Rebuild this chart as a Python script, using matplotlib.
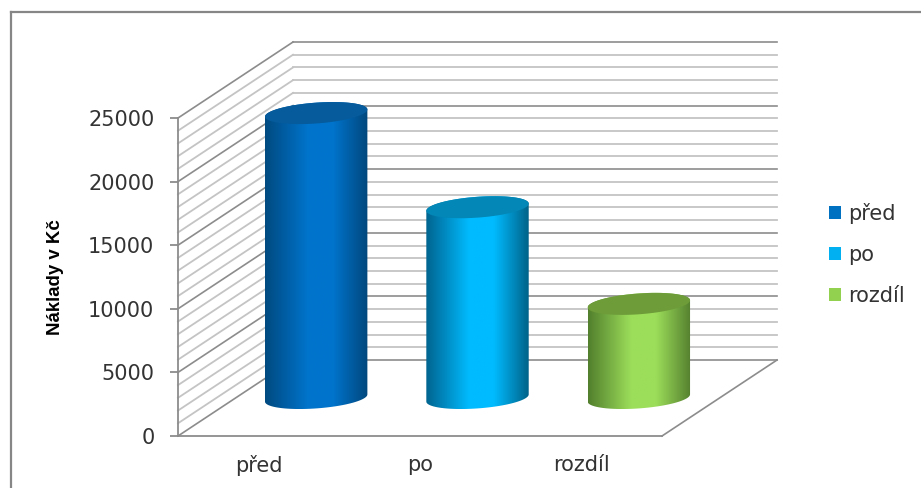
import numpy as np
import matplotlib
matplotlib.use('Agg')
import matplotlib.pyplot as plt
from matplotlib.colors import LinearSegmentedColormap
from matplotlib.lines import Line2D
from matplotlib.patches import Patch, Polygon

categories = ['před', 'po', 'rozdíl']
costs = [22400, 15000, 7400]
yticks = [0, 5000, 10000, 15000, 20000, 25000]
minor_step = 1000
y_max = 25000

# body colour: dark edge, bright middle, dark edge
body_edge_left = ['#004a80', '#00648f', '#527f2d']
body_mid = ['#0074cc', '#00bbff', '#9cde5a']
body_edge_right = ['#00477c', '#006288', '#55802f']
top_colors = ['#055b9c', '#0387b6', '#6d9c39']
legend_colors = ['#0070c0', '#00b0f0', '#92d050']
text_color = '#333333'

# oblique depth of the 3D box, in data units
depth_x = 0.713
depth_y = 5975
radius_x = 0.30
radius_depth = 0.145


def wall_lines(ax):
    for v in np.arange(0, y_max + 1, minor_step):
        major = v % 5000 == 0
        color = '#8c8c8c' if major else '#c4c4c4'
        lw = 1.2 if major else 1.3
        if v > 0:
            ax.plot([0, depth_x], [v, v + depth_y], color=color, lw=lw, clip_on=False, zorder=1)
        ax.plot([depth_x, 3 + depth_x], [v + depth_y, v + depth_y], color=color, lw=lw,
                clip_on=False, zorder=1)
    # floor outline
    ax.plot([0, depth_x], [0, depth_y], color='#8c8c8c', lw=1.2, clip_on=False, zorder=1)
    ax.plot([3, 3 + depth_x], [0, depth_y], color='#8c8c8c', lw=1.2, clip_on=False, zorder=1)


def ellipse_points(cx, level, t):
    x = cx + radius_x * np.cos(t) + radius_depth * depth_x * np.sin(t)
    y = level + radius_depth * depth_y * np.sin(t)
    return x, y


def cylinder(ax, fig, i, value):
    cx = i + 0.5 + depth_x / 2
    base = depth_y / 2
    level = base + value

    # silhouette tangents of the tilted ellipse
    t0 = np.arctan2(radius_depth * depth_x, radius_x)
    lower = np.linspace(np.pi + t0, 2 * np.pi + t0, 80)
    bx, by = ellipse_points(cx, base, lower)
    upper = np.linspace(t0, np.pi + t0, 80)
    ux, uy = ellipse_points(cx, level, upper)
    outline = np.column_stack([np.r_[bx, ux], np.r_[by, uy]])

    cmap = LinearSegmentedColormap.from_list('body', [
        (0.0, body_edge_left[i]),
        (0.42, body_mid[i]),
        (0.66, body_mid[i]),
        (1.0, body_edge_right[i]),
    ])
    x_left, x_right = outline[:, 0].min(), outline[:, 0].max()
    body = Polygon(outline, closed=True, facecolor='none', edgecolor='none',
                   transform=ax.transData)
    ax.add_patch(body)
    im = ax.imshow(np.linspace(0, 1, 256)[None, :], cmap=cmap, aspect='auto', zorder=3,
                   extent=[x_left, x_right, outline[:, 1].min(), outline[:, 1].max()])
    im.set_clip_path(body)
    im.set_clip_box(fig.bbox)

    t = np.linspace(0, 2 * np.pi, 160)
    tx, ty = ellipse_points(cx, level, t)
    ax.fill(tx, ty, color=top_colors[i], lw=0, clip_on=False, zorder=4)


fig = plt.figure(figsize=(9.21, 4.88), dpi=100)
ax = fig.add_axes([178 / 921, 52 / 488, 484 / 921, 318 / 488])
ax.patch.set_visible(False)

wall_lines(ax)
for i, value in enumerate(costs):
    cylinder(ax, fig, i, value)

ax.set_xlim(0, 3)
ax.set_ylim(0, y_max)
ax.set_xticks(np.arange(len(categories)) + 0.5)
ax.set_xticklabels(categories)
ax.set_yticks(yticks)
ax.tick_params(axis='x', length=0, pad=14, labelsize=15, labelcolor=text_color)
ax.tick_params(axis='y', length=6, width=1.3, color='#8c8c8c', pad=11, labelsize=15,
               labelcolor=text_color)
for side in ['top', 'right']:
    ax.spines[side].set_visible(False)
for side in ['left', 'bottom']:
    ax.spines[side].set_color('#8c8c8c')
    ax.spines[side].set_linewidth(1.3)

ax.set_ylabel('Náklady v Kč', family='Liberation Sans', fontweight='bold', fontsize=13.4, color='black')
ax.yaxis.set_label_coords(-0.2355, 0.5)

handles = [Patch(facecolor=c, edgecolor='none', label=n) for c, n in zip(legend_colors, categories)]
fig.legend(handles=handles, loc='upper left', bbox_to_anchor=(825 / 921, 1 - 199 / 488),
           frameon=False, fontsize=15, labelcolor=text_color, handlelength=0.58,
           handleheight=0.58, handletextpad=0.33, labelspacing=1.0, borderpad=0.2,
           borderaxespad=0)

# chart area border, cut off by the right and bottom of the image
fig.add_artist(Line2D([11 / 921, 11 / 921], [0, 1 - 12 / 488], color='#868686', lw=1.6))
fig.add_artist(Line2D([11 / 921, 1], [1 - 12 / 488, 1 - 12 / 488], color='#868686', lw=1.6))

fig.savefig('out.png', dpi=100)
